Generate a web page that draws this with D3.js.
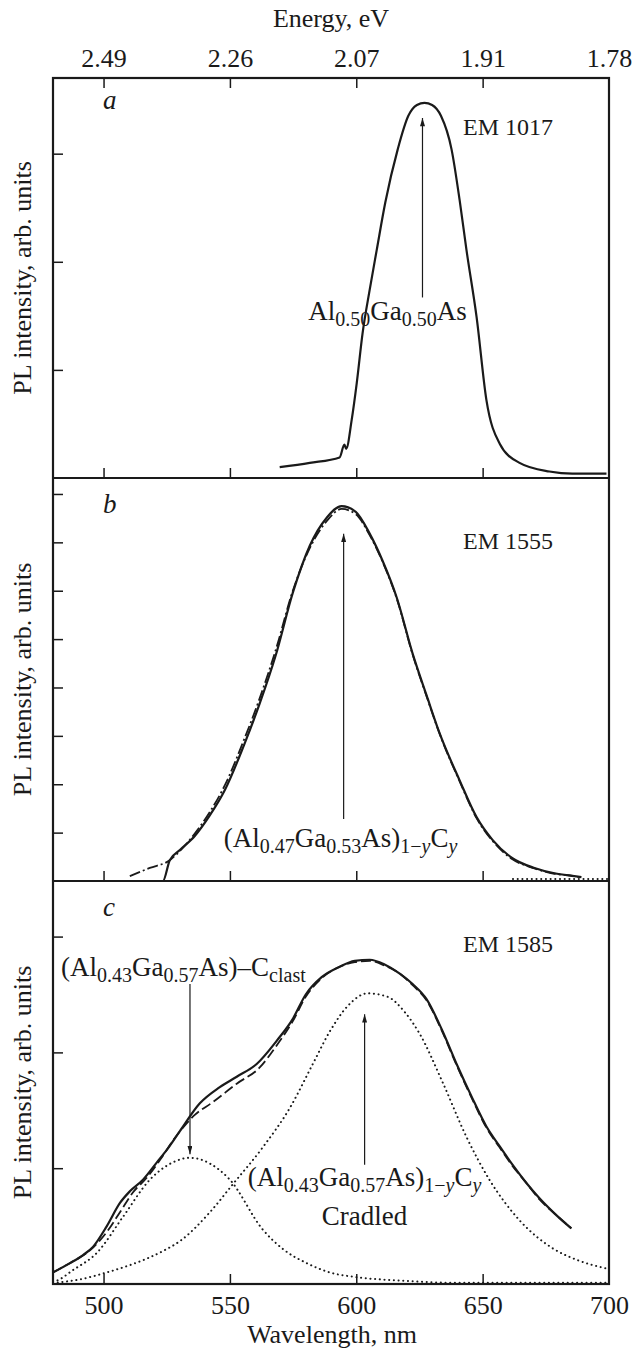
<!DOCTYPE html>
<html>
<head>
<meta charset="utf-8">
<script src="https://cdn.jsdelivr.net/npm/d3@7"></script>
<style>
  body { margin: 0; background: #fff; }
  svg { display: block; }
  text { font-family: "Liberation Serif", "Times New Roman", serif; fill: #1a1a1a; }
</style>
</head>
<body>
<div id="chart"></div>
<script>
// x ticks (nm) and the matching photon energies on the top axis
const wavelengthTicks = [500, 550, 600, 650, 700];
const energyLabels = ["2.49", "2.26", "2.07", "1.91", "1.78"];

// panel a, EM 1017 : [wavelength nm, PL intensity]
const emA = [[569.7,0.10],[581.6,0.14],[593.4,0.19],[595.3,0.31],[596.0,0.27],[598.2,0.54],[600.2,0.88],
  [602.5,1.34],[605.3,1.74],[608.1,2.11],[611.5,2.55],[616.4,3.04],[620.6,3.35],[624.0,3.45],[627.0,3.47],
  [630.0,3.45],[633.5,3.35],[637.7,3.04],[640.9,2.57],[643.6,2.11],[647.6,1.49],[651.5,0.72],[656.7,0.32],
  [664.6,0.14],[676.4,0.06],[685.5,0.04],[699.0,0.04]];

// panel b, EM 1555 : measured and fit
const emBMeasured = [[510.4,0],[523.5,0],[526.2,0.43],[530.2,0.64],[536.1,0.93],[542.1,1.36],[548.0,1.88],
  [555.5,2.80],[561.8,3.67],[568.1,4.66],[574.9,5.96],[581.6,6.93],[588.3,7.51],[594.2,7.75],[599.8,7.63],
  [605.3,7.18],[610.4,6.62],[616.0,5.86],[622.3,4.70],[627.8,3.84],[633.0,3.05],[640.9,2.08],[647.6,1.32],
  [653.9,0.85],[661.8,0.47],[670.5,0.27],[678.4,0.16],[686.3,0.10],[689.1,0.08]];
const emBFit = [[510.4,0.10],[518.3,0.27],[526.2,0.43],[530.2,0.62],[536.1,0.98],[542.1,1.43],[548.0,1.98],
  [555.5,2.91],[561.8,3.78],[568.1,4.77],[574.9,6.00],[581.6,6.88],[588.3,7.44],[594.2,7.69],[599.8,7.58],
  [605.3,7.15],[610.4,6.60],[616.0,5.84],[622.3,4.68],[627.8,3.82],[633.0,3.04],[640.9,2.06],[647.6,1.30],
  [653.9,0.83],[661.8,0.45],[670.5,0.26],[678.4,0.15],[686.3,0.10],[688.0,0.08]];
const emBBase = [[662,0.04],[680,0.04],[700,0.04]];

// panel c, EM 1585 : measured, sum fit and the two bands
const emCMeasured = [[480.0,0.10],[486.7,0.18],[491.9,0.25],[495.8,0.32],[501.3,0.50],[506.5,0.70],[510.4,0.80],
  [515.6,0.90],[521.1,1.05],[525.1,1.16],[530.2,1.32],[538.1,1.56],[546.0,1.70],[552.7,1.79],[560.6,1.90],
  [568.5,2.10],[574.9,2.29],[580.0,2.50],[586.3,2.65],[593.4,2.74],[599.4,2.79],[605.3,2.80],[611.2,2.76],
  [617.2,2.68],[622.3,2.59],[627.8,2.46],[633.8,2.20],[639.7,1.90],[645.6,1.62],[651.5,1.36],[656.7,1.19],
  [661.8,1.03],[667.4,0.87],[672.5,0.74],[678.4,0.61],[685.1,0.48]];
const emCFit = [[480.0,0.10],[486.7,0.18],[494.6,0.29],[501.3,0.45],[506.5,0.62],[511.6,0.79],[517.2,0.92],
  [522.3,1.07],[528.2,1.26],[536.1,1.46],[543.2,1.57],[552.7,1.73],[561.8,1.87],[568.5,2.06],[574.9,2.27],
  [580.0,2.48],[586.3,2.64],[593.4,2.74],[599.4,2.78],[605.3,2.79],[611.2,2.75],[617.2,2.68],[622.3,2.58],
  [627.8,2.45],[633.8,2.19],[639.7,1.89],[645.6,1.61],[651.5,1.35],[656.7,1.18],[661.8,1.02],[667.4,0.87],
  [672.5,0.73],[678.4,0.61],[685.1,0.48]];
const emCClast = [[480.0,0.02],[481.6,0.03],[487.9,0.12],[497.4,0.27],[507.7,0.58],[518.3,0.90],[527.4,1.05],
  [534.2,1.09],[542.1,1.04],[550.0,0.90],[563.0,0.47],[571.7,0.29],[580.4,0.18],[589.5,0.10],[599.8,0.06],
  [617.2,0.03],[639.7,0.01],[699.8,0.01]];
const emCCradled = [[480.0,0.01],[490.7,0.04],[501.3,0.10],[510.0,0.16],[517.2,0.22],[524.0,0.29],[530.2,0.37],
  [542.1,0.62],[551.1,0.86],[563.0,1.18],[573.7,1.52],[582.8,1.90],[589.5,2.18],[596.6,2.40],[604.5,2.51],
  [612.4,2.48],[619.1,2.35],[625.1,2.16],[634.2,1.74],[643.6,1.27],[652.7,0.90],[664.6,0.55],[677.6,0.31],
  [688.3,0.20],[699.8,0.13]];

const W = 632, H = 1349;
const svg = d3.select("#chart").append("svg").attr("width", W).attr("height", H);

const x = d3.scaleLinear().domain([480, 700]).range([53, 609]);

const panels = [
  {top: 78, bottom: 478, yMax: 3.7, ticks: [1, 2, 3], letter: "a", em: "EM 1017"},
  {top: 478, bottom: 881, yMax: 8.33, ticks: d3.range(1, 9), letter: "b", em: "EM 1555"},
  {top: 881, bottom: 1284, yMax: 3.48, ticks: [1, 2, 3], letter: "c", em: "EM 1585"}
];
panels.forEach(p => p.y = d3.scaleLinear().domain([0, p.yMax]).range([p.bottom, p.top]));

const ink = "#1a1a1a";

// arrow head
svg.append("defs").append("marker")
  .attr("id", "arr").attr("viewBox", "0 0 10 6").attr("refX", 10).attr("refY", 3)
  .attr("markerWidth", 9).attr("markerHeight", 5).attr("markerUnits", "userSpaceOnUse")
  .attr("orient", "auto")
  .append("path").attr("d", "M0,0L10,3L0,6Z").attr("fill", ink);

// axes per panel
panels.forEach((p, i) => {
  const g = svg.append("g");
  g.append("g").attr("transform", `translate(53,0)`)
    .call(d3.axisRight(p.y).tickValues(p.ticks).tickSize(10).tickFormat(""))
    .call(a => a.select(".domain").remove())
    .call(a => a.selectAll("line").attr("stroke", ink).attr("stroke-width", 1.5));
  g.append("g").attr("transform", `translate(0,${p.bottom})`)
    .call(d3.axisTop(x).tickValues(wavelengthTicks.slice(0, 4)).tickSize(10).tickFormat(""))
    .call(a => a.select(".domain").remove())
    .call(a => a.selectAll("line").attr("stroke", ink).attr("stroke-width", 1.5));

  // y title
  svg.append("text")
    .attr("transform", `translate(31,${(p.top + p.bottom) / 2}) rotate(-90)`)
    .attr("text-anchor", "middle").attr("font-size", 26)
    .text("PL intensity, arb. units");

  svg.append("text").attr("x", 103).attr("y", p.top + (i === 0 ? 31 : 35))
    .attr("font-size", 27).attr("font-style", "italic").text(p.letter);
  svg.append("text").attr("x", 463).attr("y", p.top + (i === 0 ? 57 : 71))
    .attr("font-size", 24).text(p.em);
});

// top energy axis
svg.append("g").attr("transform", "translate(0,78)")
  .call(d3.axisBottom(x).tickValues(wavelengthTicks.slice(0, 4)).tickSize(10).tickFormat(""))
  .call(a => a.select(".domain").remove())
  .call(a => a.selectAll("line").attr("stroke", ink).attr("stroke-width", 1.5));
svg.append("g").attr("transform", "translate(0,78)")
  .call(d3.axisTop(x).tickValues(wavelengthTicks).tickSize(0).tickPadding(11)
    .tickFormat((d, i) => energyLabels[i]))
  .call(a => a.select(".domain").remove())
  .call(a => a.selectAll("text").attr("font-size", 26).attr("fill", ink)
    .style("font-family", '"Liberation Serif", serif'));
svg.append("text").attr("x", 331).attr("y", 27).attr("text-anchor", "middle")
  .attr("font-size", 26).text("Energy, eV");

// bottom wavelength axis labels
svg.append("g").attr("transform", "translate(0,1284)")
  .call(d3.axisBottom(x).tickValues(wavelengthTicks).tickSize(0).tickPadding(12))
  .call(a => a.select(".domain").remove())
  .call(a => a.selectAll("text").attr("font-size", 26).attr("fill", ink)
    .style("font-family", '"Liberation Serif", serif'));
svg.append("text").attr("x", 332).attr("y", 1343).attr("text-anchor", "middle")
  .attr("font-size", 26).text("Wavelength, nm");

// series
const solid = {w: 2.2};
const dashDot = {w: 1.8, dash: "11,3,2,3"};
const dashed = {w: 1.8, dash: "10,4"};
const dotted = {w: 2, dash: "0.1,4.6", cap: "round"};

function drawSeries(p, data, st) {
  const line = d3.line().x(d => x(d[0])).y(d => p.y(d[1])).curve(d3.curveMonotoneX);
  svg.append("path").datum(data).attr("d", line)
    .attr("fill", "none").attr("stroke", ink).attr("stroke-width", st.w)
    .attr("stroke-dasharray", st.dash || null).attr("stroke-linecap", st.cap || "butt")
    .attr("stroke-linejoin", "round");
}
drawSeries(panels[0], emA, solid);
drawSeries(panels[1], emBBase, dotted);
drawSeries(panels[1], emBFit, dashDot);
drawSeries(panels[1], emBMeasured, solid);
drawSeries(panels[2], emCClast, dotted);
drawSeries(panels[2], emCCradled, dotted);
drawSeries(panels[2], emCFit, dashed);
drawSeries(panels[2], emCMeasured, solid);

// frame
svg.append("rect").attr("x", 53).attr("y", 78).attr("width", 556).attr("height", 1206)
  .attr("fill", "none").attr("stroke", ink).attr("stroke-width", 2.2);
[478, 881].forEach(v => svg.append("line").attr("x1", 53).attr("x2", 609)
  .attr("y1", v).attr("y2", v).attr("stroke", ink).attr("stroke-width", 2.2));

// annotations: panel, wavelength, intensity from, intensity to
const arrows = [
  [0, 626.2, 1.67, 3.33],
  [1, 595.0, 1.28, 7.18],
  [2, 534.2, 2.59, 1.12],
  [2, 603.3, 1.03, 2.33]
];
arrows.forEach(([pi, l, a, b]) => {
  const p = panels[pi];
  svg.append("line").attr("x1", x(l)).attr("x2", x(l)).attr("y1", p.y(a)).attr("y2", p.y(b))
    .attr("stroke", ink).attr("stroke-width", 1.2).attr("marker-end", "url(#arr)");
});

function rich(parts, xx, yy, anchor) {
  const t = svg.append("text").attr("x", xx).attr("y", yy).attr("text-anchor", anchor).attr("font-size", 27);
  let cur = 0;
  parts.forEach(pt => {
    const target = pt.sub ? 6 : 0;
    t.append("tspan").attr("dy", target - cur).attr("font-size", pt.sub ? 20 : 27)
      .attr("font-style", pt.it ? "italic" : null).text(pt.t);
    cur = target;
  });
  return t;
}
rich([{t: "Al"}, {t: "0.50", sub: 1}, {t: "Ga"}, {t: "0.50", sub: 1}, {t: "As"}],
  x(612.4), panels[0].y(1.46), "middle");
rich([{t: "(Al"}, {t: "0.47", sub: 1}, {t: "Ga"}, {t: "0.53", sub: 1}, {t: "As)"},
  {t: "1−", sub: 1}, {t: "y", sub: 1, it: 1}, {t: "C"}, {t: "y", sub: 1, it: 1}],
  x(593.8), panels[1].y(0.70), "middle");
rich([{t: "(Al"}, {t: "0.43", sub: 1}, {t: "Ga"}, {t: "0.57", sub: 1}, {t: "As)–C"}, {t: "clast", sub: 1}],
  x(483.2), panels[2].y(2.66), "start");
rich([{t: "(Al"}, {t: "0.43", sub: 1}, {t: "Ga"}, {t: "0.57", sub: 1}, {t: "As)"},
  {t: "1−", sub: 1}, {t: "y", sub: 1, it: 1}, {t: "C"}, {t: "y", sub: 1, it: 1}],
  x(603.3), panels[2].y(0.85), "middle");
svg.append("text").attr("x", x(603.3)).attr("y", panels[2].y(0.51)).attr("text-anchor", "middle")
  .attr("font-size", 27).text("Cradled");
</script>
</body>
</html>
